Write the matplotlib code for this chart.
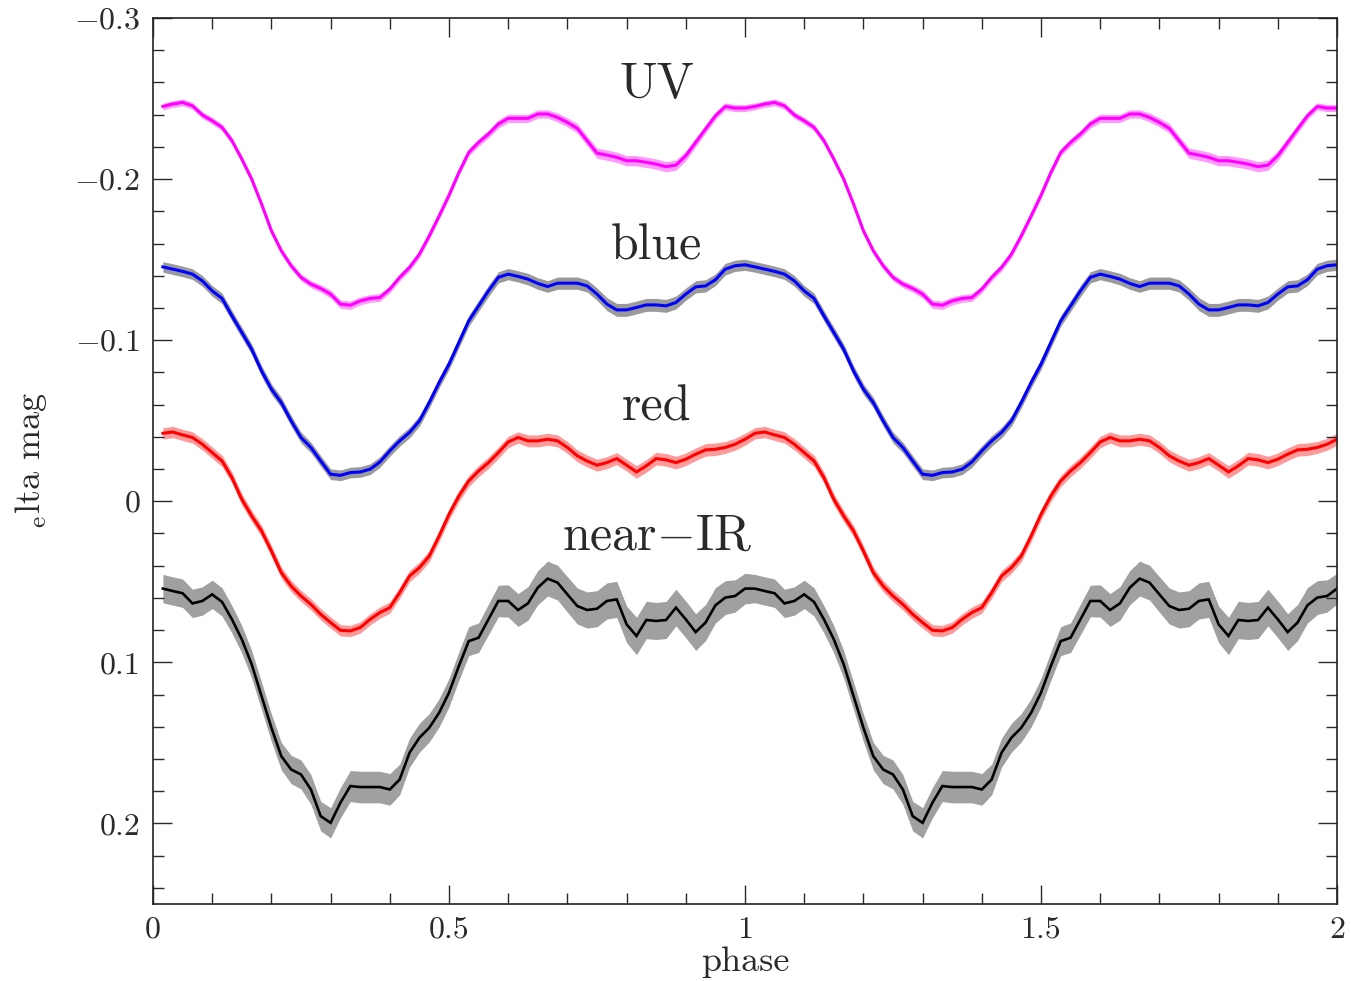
import numpy as np
import matplotlib
matplotlib.use("Agg")
import matplotlib.pyplot as plt
from matplotlib.ticker import MultipleLocator, FixedLocator, FixedFormatter

plt.rcParams['font.family'] = ['cmr10', 'DejaVu Serif']
plt.rcParams['mathtext.fontset'] = 'cm'
plt.rcParams['axes.formatter.use_mathtext'] = True

# phase bins for one cycle (60 bins), plotted over two cycles
phase_bins = np.arange(1, 61) / 60.0
n_cycles = 2

uv = [-0.2451, -0.2466, -0.2476, -0.2455, -0.2398, -0.2362, -0.2321, -0.2238, -0.2124, -0.2000,
      -0.1845, -0.1679, -0.1555, -0.1462, -0.1390, -0.1348, -0.1321, -0.1286, -0.1224, -0.1217,
      -0.1244, -0.1259, -0.1265, -0.1317, -0.1390, -0.1452, -0.1534, -0.1648, -0.1772, -0.1900,
      -0.2041, -0.2166, -0.2228, -0.2280, -0.2342, -0.2377, -0.2377, -0.2377, -0.2404, -0.2404,
      -0.2383, -0.2352, -0.2315, -0.2238, -0.2161, -0.2149, -0.2135, -0.2114, -0.2114, -0.2104,
      -0.2093, -0.2077, -0.2087, -0.2145, -0.2228, -0.2311, -0.2393, -0.2451, -0.2441, -0.2441]
uv_err = [0.0021, 0.0021, 0.0021, 0.0021, 0.0021, 0.0021, 0.0021, 0.0021, 0.0021, 0.0021,
          0.0021, 0.0021, 0.0021, 0.0021, 0.0021, 0.0022, 0.0023, 0.0025, 0.0026, 0.0026,
          0.0025, 0.0024, 0.0024, 0.0023, 0.0022, 0.0022, 0.0022, 0.0022, 0.0022, 0.0022,
          0.0022, 0.0022, 0.0024, 0.0024, 0.0026, 0.0026, 0.0026, 0.0026, 0.0026, 0.0026,
          0.0028, 0.0028, 0.0030, 0.0030, 0.0032, 0.0032, 0.0032, 0.0032, 0.0032, 0.0032,
          0.0032, 0.0032, 0.0032, 0.0030, 0.0028, 0.0026, 0.0024, 0.0022, 0.0022, 0.0022]

blue = [-0.1455, -0.1441, -0.1427, -0.1410, -0.1368, -0.1306, -0.1259, -0.1151, -0.1048, -0.0944,
        -0.0809, -0.0696, -0.0613, -0.0499, -0.0396, -0.0334, -0.0250, -0.0168, -0.0161, -0.0178,
        -0.0182, -0.0199, -0.0244, -0.0313, -0.0375, -0.0427, -0.0499, -0.0613, -0.0737, -0.0851,
        -0.0986, -0.1120, -0.1213, -0.1306, -0.1390, -0.1410, -0.1396, -0.1379, -0.1352, -0.1333,
        -0.1354, -0.1354, -0.1354, -0.1337, -0.1286, -0.1224, -0.1188, -0.1188, -0.1203, -0.1219,
        -0.1219, -0.1213, -0.1234, -0.1286, -0.1331, -0.1337, -0.1375, -0.1441, -0.1462, -0.1468]
blue_err = [0.0033, 0.0033, 0.0033, 0.0033, 0.0033, 0.0033, 0.0033, 0.0033, 0.0033, 0.0033,
            0.0033, 0.0033, 0.0033, 0.0033, 0.0033, 0.0033, 0.0033, 0.0033, 0.0033, 0.0033,
            0.0033, 0.0033, 0.0033, 0.0033, 0.0033, 0.0033, 0.0033, 0.0033, 0.0033, 0.0033,
            0.0033, 0.0033, 0.0034, 0.0035, 0.0035, 0.0035, 0.0035, 0.0036, 0.0036, 0.0036,
            0.0038, 0.0038, 0.0038, 0.0038, 0.0038, 0.0040, 0.0040, 0.0040, 0.0040, 0.0040,
            0.0040, 0.0040, 0.0040, 0.0038, 0.0038, 0.0038, 0.0036, 0.0036, 0.0035, 0.0035]

red = [-0.0422, -0.0430, -0.0412, -0.0396, -0.0354, -0.0302, -0.0250, -0.0147, -0.0012, 0.0091,
       0.0184, 0.0309, 0.0443, 0.0526, 0.0588, 0.0640, 0.0702, 0.0753, 0.0801, 0.0805,
       0.0784, 0.0733, 0.0691, 0.0660, 0.0567, 0.0464, 0.0412, 0.0340, 0.0215, 0.0081,
       -0.0033, -0.0126, -0.0188, -0.0240, -0.0302, -0.0368, -0.0396, -0.0375, -0.0375, -0.0385,
       -0.0375, -0.0334, -0.0282, -0.0250, -0.0224, -0.0240, -0.0265, -0.0224, -0.0182, -0.0220,
       -0.0265, -0.0257, -0.0240, -0.0261, -0.0292, -0.0319, -0.0323, -0.0334, -0.0354, -0.0385]
red_err = [0.0035, 0.0035, 0.0035, 0.0035, 0.0035, 0.0035, 0.0035, 0.0035, 0.0035, 0.0035,
           0.0035, 0.0035, 0.0035, 0.0035, 0.0035, 0.0035, 0.0035, 0.0035, 0.0035, 0.0035,
           0.0035, 0.0035, 0.0035, 0.0035, 0.0035, 0.0035, 0.0035, 0.0035, 0.0035, 0.0035,
           0.0035, 0.0035, 0.0035, 0.0035, 0.0035, 0.0035, 0.0035, 0.0037, 0.0037, 0.0037,
           0.0037, 0.0037, 0.0037, 0.0037, 0.0037, 0.0037, 0.0037, 0.0037, 0.0039, 0.0039,
           0.0039, 0.0039, 0.0039, 0.0039, 0.0039, 0.0039, 0.0039, 0.0037, 0.0037, 0.0037]

nir = [0.0542, 0.0557, 0.0571, 0.0634, 0.0619, 0.0578, 0.0625, 0.0733, 0.0857, 0.1012,
       0.1209, 0.1406, 0.1582, 0.1665, 0.1696, 0.1789, 0.1955, 0.1996, 0.1871, 0.1768,
       0.1774, 0.1774, 0.1774, 0.1789, 0.1727, 0.1561, 0.1468, 0.1406, 0.1313, 0.1188,
       0.1023, 0.0868, 0.0847, 0.0733, 0.0619, 0.0619, 0.0675, 0.0634, 0.0536, 0.0480,
       0.0505, 0.0578, 0.0650, 0.0675, 0.0667, 0.0619, 0.0609, 0.0764, 0.0836, 0.0737,
       0.0743, 0.0737, 0.0660, 0.0733, 0.0812, 0.0753, 0.0646, 0.0598, 0.0588, 0.0542]
nir_err = [0.0088, 0.0088, 0.0088, 0.0088, 0.0088, 0.0088, 0.0088, 0.0085, 0.0085, 0.0085,
           0.0085, 0.0085, 0.0085, 0.0088, 0.0090, 0.0092, 0.0092, 0.0094, 0.0094, 0.0096,
           0.0098, 0.0098, 0.0098, 0.0098, 0.0095, 0.0090, 0.0090, 0.0088, 0.0088, 0.0088,
           0.0088, 0.0090, 0.0092, 0.0095, 0.0098, 0.0100, 0.0102, 0.0104, 0.0106, 0.0108,
           0.0108, 0.0110, 0.0112, 0.0112, 0.0112, 0.0112, 0.0112, 0.0114, 0.0116, 0.0116,
           0.0115, 0.0115, 0.0114, 0.0114, 0.0114, 0.0112, 0.0110, 0.0105, 0.0100, 0.0095]

series = [
    ("UV", uv, uv_err, "#ff00ff", "#ff99ff", 2.2, -0.2507),
    ("blue", blue, blue_err, "#0000ff", "#9a9a9a", 2.2, -0.1503),
    ("red", red, red_err, "#ff0000", "#ff9a9a", 2.2, -0.0503),
    ("near$-$IR", nir, nir_err, "#000000", "#a0a0a0", 1.9, 0.0298),
]
label_x = 0.851

x_ticks = [0, 0.5, 1, 1.5, 2]
x_tick_labels = ["0", "0.5", "1", "1.5", "2"]
y_ticks = [-0.3, -0.2, -0.1, 0, 0.1, 0.2]
y_tick_labels = ["$-$0.3", "$-$0.2", "$-$0.1", "0", "0.1", "0.2"]

text_col = '#2a2a2a'

fig = plt.figure(figsize=(13.51, 9.81), dpi=100)
ax = fig.add_axes([153 / 1351, 77 / 981, 1184 / 1351, 886 / 981])

phase = np.concatenate([phase_bins + c for c in range(n_cycles)])
for name, vals, err, lc, bc, lw, ly in series:
    v = np.tile(np.asarray(vals), n_cycles)
    e = np.tile(np.asarray(err), n_cycles)
    ax.fill_between(phase, v - e, v + e, color=bc, linewidth=0, zorder=1)
    ax.plot(phase, v, color=lc, linewidth=lw, zorder=2, solid_joinstyle='miter')
    ax.text(label_x, ly, name, ha='center', va='baseline', fontsize=36, color=text_col)

ax.set_xlim(0, 2)
ax.set_ylim(0.25, -0.3)

ax.xaxis.set_major_locator(FixedLocator(x_ticks))
ax.xaxis.set_major_formatter(FixedFormatter(x_tick_labels))
ax.xaxis.set_minor_locator(MultipleLocator(0.1))
ax.yaxis.set_major_locator(FixedLocator(y_ticks))
ax.yaxis.set_major_formatter(FixedFormatter(y_tick_labels))
ax.yaxis.set_minor_locator(MultipleLocator(0.02))

ax.tick_params(which='both', direction='in', top=True, right=True, width=1, colors=text_col)
ax.tick_params(which='major', length=14, pad=9, labelsize=23)
ax.tick_params(which='minor', length=8)
for s in ax.spines.values():
    s.set_linewidth(1.2)
    s.set_color('#222222')

ax.set_xlabel("phase", fontsize=26, labelpad=2, color=text_col)
ax.set_ylabel(r"${}_{\mathrm{e}}$lta mag", fontsize=26, labelpad=18, color=text_col)

fig.savefig("out.png", dpi=100)
